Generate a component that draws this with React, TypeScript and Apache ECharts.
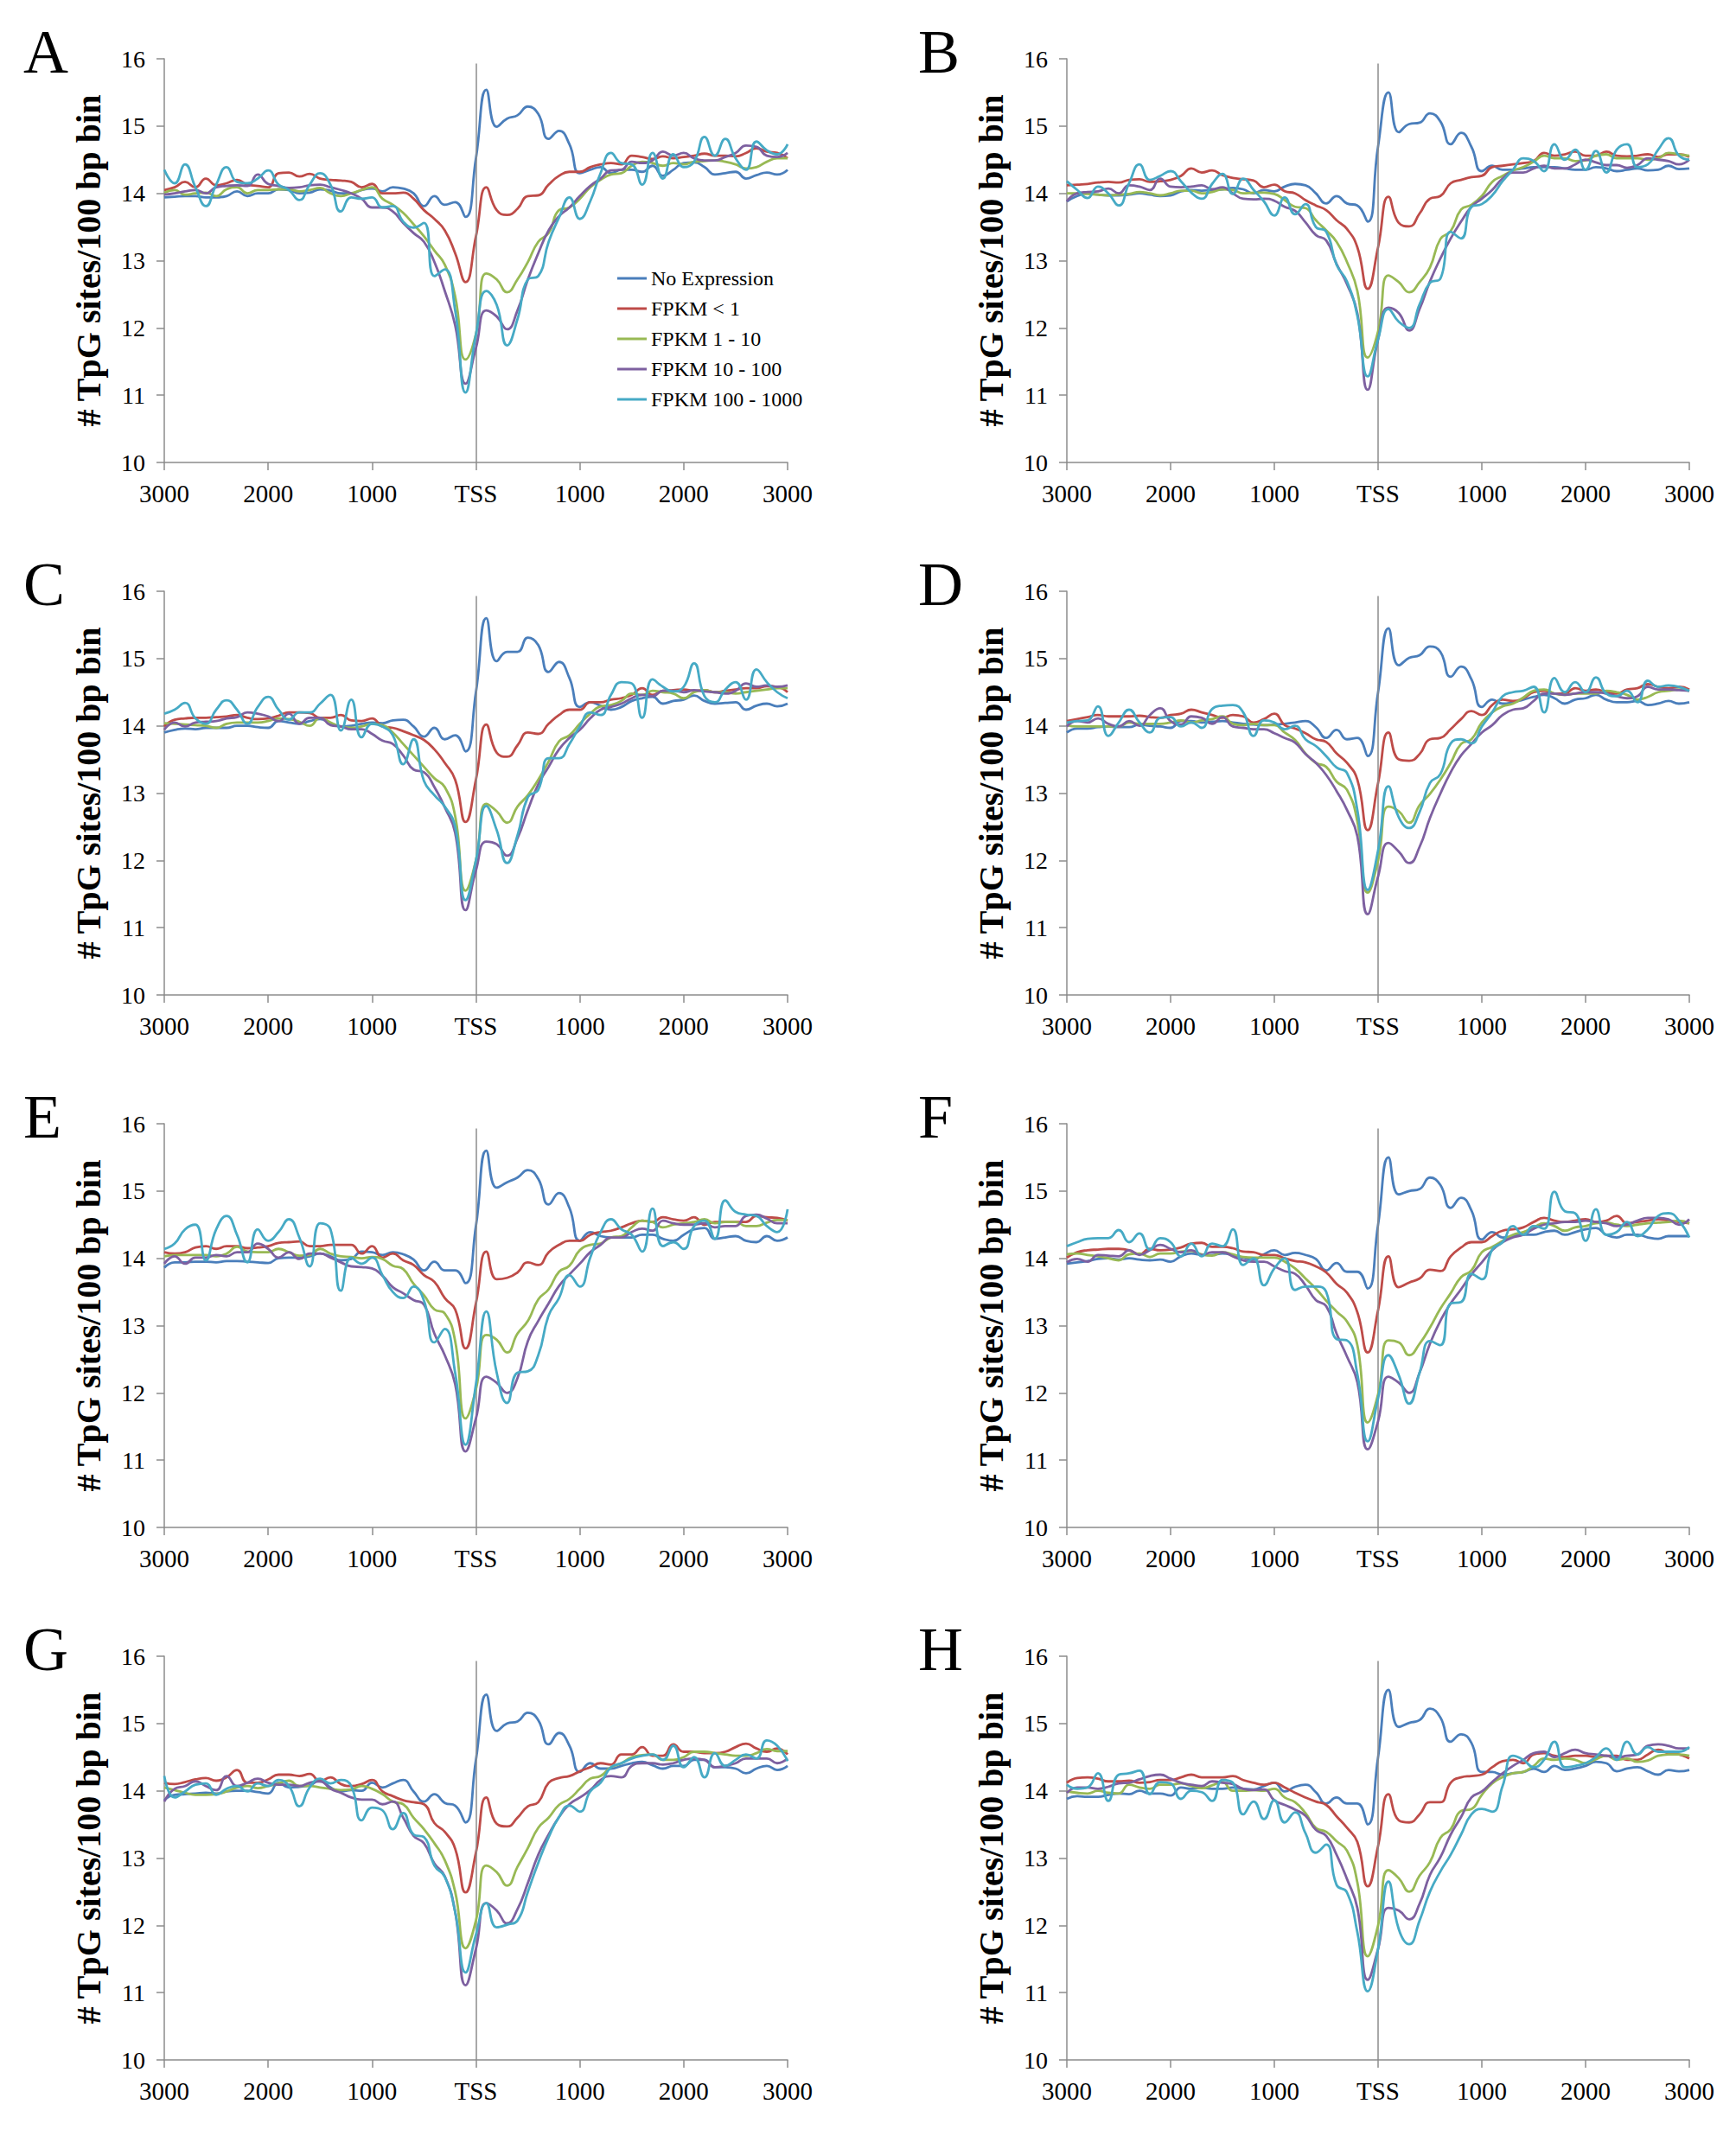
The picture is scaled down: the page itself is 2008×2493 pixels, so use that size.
import React, { useEffect, useRef } from "react";
import * as echarts from "echarts";

// x positions (bp relative to TSS), 100 bp bins
const positions = [
  -3000, -2900, -2800, -2700, -2600, -2500, -2400, -2300, -2200, -2100,
  -2000, -1900, -1800, -1700, -1600, -1500, -1400, -1300, -1200, -1100,
  -1000, -900, -800, -700, -600, -500, -400, -300, -200, -100,
  0, 100, 200, 300, 400, 500, 600, 700, 800, 900,
  1000, 1100, 1200, 1300, 1400, 1500, 1600, 1700, 1800, 1900,
  2000, 2100, 2200, 2300, 2400, 2500, 2600, 2700, 2800, 2900, 3000,
];

const seriesNames = ["No Expression", "FPKM < 1", "FPKM 1 - 10", "FPKM 10 - 100", "FPKM 100 - 1000"];
const seriesColors = ["#4A7EBB", "#BE4B48", "#98B954", "#7D60A0", "#46AAC5"];
const panelLetters = ["A", "B", "C", "D", "E", "F", "G", "H"];
const yAxisTitle = "# TpG sites/100 bp bin";
const yMin = 10;
const yMax = 16;
const yStep = 1;

// ---- Panel A ----
const A_noExpr = [13.94,13.95,13.96,13.96,13.94,13.94,13.96,14.03,13.96,14.0, 14.0,14.06,14.05,14.0,14.01,14.06,14.04,14.0,14.0,14.05, 14.07,14.03,14.09,14.07,14.0,13.81,13.96,13.83,13.87,13.65, 14.52,15.54,14.99,15.11,15.16,15.29,15.18,14.81,14.93,14.73, 14.30,14.35,14.39,14.30,14.35,14.35,14.32,14.41,14.26,14.35, 14.45,14.46,14.39,14.28,14.30,14.32,14.22,14.27,14.31,14.28,14.35];
const A_lt1 = [14.05,14.09,14.17,14.09,14.22,14.12,14.15,14.20,14.13,14.11, 14.09,14.30,14.31,14.25,14.29,14.22,14.20,14.19,14.17,14.09, 14.14,14.0,14.0,14.01,13.92,13.75,13.62,13.45,13.11,12.68, 13.36,14.09,13.75,13.68,13.77,13.96,13.97,14.13,14.26,14.32, 14.32,14.39,14.43,14.45,14.43,14.56,14.54,14.51,14.55,14.52, 14.54,14.56,14.59,14.56,14.56,14.55,14.60,14.67,14.62,14.60,14.52];
const A_1to10 = [14.01,14.05,13.98,14.0,14.01,13.96,14.06,14.09,14.0,14.05, 14.05,14.06,14.06,14.03,14.05,14.08,14.0,13.96,14.0,14.05, 14.09,13.92,13.83,13.71,13.54,13.36,13.15,12.94,12.47,11.53, 11.91,12.81,12.72,12.53,12.72,12.98,13.28,13.41,13.75,13.79, 13.92,14.09,14.20,14.28,14.30,14.41,14.47,14.45,14.41,14.45, 14.43,14.47,14.48,14.49,14.47,14.43,14.37,14.39,14.47,14.52,14.52];
const A_10to100 = [13.98,14.0,14.03,14.05,14.0,14.09,14.11,14.12,14.11,14.28, 14.14,14.11,14.08,14.09,14.12,14.13,14.09,14.05,14.0,13.92, 13.79,13.79,13.73,13.56,13.41,13.28,12.98,12.55,12.04,11.17, 11.70,12.26,12.17,11.98,12.26,12.72,13.11,13.45,13.66,13.79, 13.96,14.11,14.22,14.34,14.35,14.47,14.45,14.49,14.62,14.56, 14.60,14.52,14.49,14.49,14.54,14.60,14.71,14.69,14.56,14.54,14.60];
const A_100to1000 = [14.35,14.15,14.43,14.09,13.81,14.13,14.39,14.17,14.15,14.22, 14.34,14.13,14.05,13.90,14.13,14.30,14.13,13.73,13.94,13.92, 13.94,13.79,13.81,13.58,13.49,13.56,12.77,12.87,12.26,11.04, 11.9,12.55,12.34,11.74,12.13,12.72,12.77,13.28,13.64,13.94, 13.62,13.88,14.30,14.60,14.45,14.43,14.13,14.60,14.22,14.58, 14.39,14.47,14.84,14.56,14.81,14.52,14.35,14.77,14.64,14.58,14.73];

// ---- Panel B ----
const B_noExpr = [13.88,13.96,14.0,13.98,13.97,13.97,13.98,14.0,13.98,13.96, 13.97,14.03,14.05,14.04,14.05,14.06,14.08,14.06,14.0,14.05, 14.03,14.1,14.14,14.12,14.0,13.85,13.96,13.85,13.82,13.58, 14.7,15.5,14.91,15.03,15.05,15.19,15.07,14.73,14.9,14.69, 14.33,14.41,14.35,14.35,14.37,14.39,14.39,14.39,14.37,14.35, 14.35,14.39,14.37,14.33,14.35,14.37,14.34,14.35,14.41,14.36,14.37];
const B_lt1 = [14.12,14.13,14.14,14.16,14.17,14.16,14.2,14.21,14.17,14.18, 14.2,14.26,14.37,14.31,14.34,14.27,14.23,14.21,14.19,14.09, 14.13,14.03,14.0,13.9,13.82,13.75,13.6,13.47,13.2,12.58, 13.2,13.95,13.56,13.51,13.7,13.92,13.96,14.15,14.2,14.24, 14.26,14.39,14.41,14.43,14.45,14.48,14.6,14.56,14.58,14.62, 14.56,14.56,14.62,14.56,14.55,14.56,14.58,14.54,14.58,14.58,14.54];
const B_1to10 = [14.0,14.0,13.99,13.98,13.97,13.98,13.99,14.02,14.0,13.97, 14.0,14.04,14.04,14.0,14.02,14.06,14.05,14.0,14.01,14.01, 13.99,13.9,13.8,13.78,13.6,13.45,13.28,12.98,12.55,11.56, 11.95,12.78,12.68,12.53,12.68,12.9,13.32,13.44,13.76,13.83, 13.96,14.17,14.26,14.34,14.39,14.47,14.56,14.52,14.52,14.48, 14.49,14.56,14.58,14.52,14.52,14.52,14.5,14.52,14.6,14.58,14.56];
const B_10to100 = [13.88,14.0,14.02,14.03,14.07,14.0,14.12,14.1,14.05,14.22, 14.1,14.09,14.1,14.12,14.06,14.09,14.0,13.92,13.91,13.92, 13.89,13.8,13.74,13.57,13.38,13.3,12.95,12.65,12.22,11.08, 11.83,12.3,12.22,11.96,12.28,12.69,13.03,13.33,13.58,13.8, 13.92,14.05,14.22,14.31,14.31,14.37,14.41,14.37,14.37,14.43, 14.5,14.46,14.42,14.42,14.38,14.42,14.52,14.5,14.48,14.43,14.5];
const B_100to1000 = [14.18,14.05,13.93,14.1,14.0,13.82,14.15,14.43,14.2,14.26, 14.33,14.18,14.01,13.92,14.14,14.29,13.99,14.22,14.05,13.88, 13.67,13.94,13.69,13.84,13.5,13.43,12.94,12.69,12.18,11.28, 11.83,12.28,12.09,12.0,12.35,12.67,12.73,13.43,13.33,13.8, 13.84,13.97,14.18,14.35,14.52,14.48,14.33,14.73,14.5,14.65, 14.35,14.63,14.31,14.65,14.73,14.39,14.43,14.65,14.82,14.56,14.5];

// ---- Panel C ----
const C_noExpr = [13.9,13.94,13.96,13.95,13.97,13.97,13.97,14.0,14.0,13.98, 13.97,14.07,14.05,14.03,14.07,14.1,14.04,13.99,14.0,14.03, 14.05,14.04,14.08,14.09,13.99,13.84,13.97,13.8,13.86,13.62, 14.5,15.6,14.96,15.1,15.1,15.31,15.2,14.8,14.95,14.71, 14.28,14.35,14.3,14.24,14.28,14.37,14.41,14.43,14.33,14.37, 14.39,14.45,14.37,14.33,14.34,14.35,14.24,14.3,14.33,14.29,14.33];
const C_lt1 = [13.99,14.09,14.11,14.12,14.12,14.13,14.14,14.16,14.12,14.1, 14.11,14.15,14.2,14.2,14.19,14.12,14.12,14.16,14.08,14.07, 14.11,13.99,13.97,13.92,13.86,13.79,13.65,13.45,13.2,12.57, 13.2,14.02,13.6,13.54,13.71,13.9,13.88,14.03,14.16,14.24, 14.24,14.35,14.35,14.39,14.41,14.46,14.56,14.46,14.52,14.53, 14.54,14.52,14.53,14.5,14.52,14.54,14.56,14.56,14.59,14.58,14.5];
const C_1to10 = [14.04,14.03,14.02,14.01,14.0,13.97,14.03,14.05,14.05,14.05, 14.07,14.11,14.1,14.06,14.0,14.12,14.05,13.99,13.97,13.99, 14.03,14.01,13.9,13.73,13.56,13.39,13.22,13.09,12.66,11.55, 12.0,12.84,12.73,12.56,12.8,12.97,13.2,13.47,13.77,13.86, 14.03,14.18,14.29,14.31,14.37,14.48,14.46,14.52,14.5,14.48, 14.41,14.5,14.53,14.5,14.5,14.48,14.5,14.52,14.54,14.56,14.56];
const C_10to100 = [13.94,14.05,13.99,14.05,14.06,14.07,14.11,14.13,14.2,14.18, 14.14,14.07,14.18,14.03,14.12,14.12,14.01,13.99,13.95,13.95, 13.88,13.78,13.73,13.56,13.35,13.31,13.09,12.79,12.41,11.26, 11.85,12.28,12.24,12.07,12.33,12.75,13.13,13.39,13.65,13.82, 13.94,14.11,14.24,14.28,14.33,14.41,14.46,14.44,14.52,14.52, 14.5,14.53,14.51,14.5,14.48,14.52,14.63,14.58,14.6,14.58,14.6];
const C_100to1000 = [14.18,14.24,14.34,14.11,14.03,14.24,14.38,14.24,14.03,14.28, 14.43,14.24,14.09,14.2,14.2,14.33,14.46,13.93,14.39,13.83, 14.03,13.99,13.86,13.43,13.8,13.18,12.97,12.8,12.5,11.41, 12.0,12.81,12.45,11.96,12.37,12.94,13.05,13.52,13.52,13.73, 13.99,14.2,14.16,14.46,14.65,14.63,14.12,14.69,14.58,14.51, 14.58,14.93,14.44,14.35,14.54,14.65,14.39,14.84,14.65,14.5,14.41];

// ---- Panel D ----
const D_noExpr = [13.9,13.96,13.96,13.98,13.99,13.98,13.98,14.02,14.0,13.99, 13.97,14.07,14.07,14.05,14.06,14.07,14.05,14.03,14.02,14.01, 14.02,14.03,14.05,14.07,13.98,13.82,13.94,13.8,13.82,13.55, 14.5,15.45,14.9,15.01,15.05,15.18,15.1,14.73,14.88,14.69, 14.28,14.39,14.33,14.35,14.39,14.43,14.46,14.41,14.33,14.39, 14.41,14.46,14.39,14.35,14.35,14.37,14.31,14.33,14.37,14.33,14.35];
const D_lt1 = [14.07,14.1,14.13,14.16,14.14,14.14,14.14,14.15,14.13,14.12, 14.16,14.18,14.24,14.2,14.16,14.12,14.16,14.14,14.05,14.1, 14.18,14.01,13.96,13.89,13.8,13.76,13.59,13.45,13.2,12.45, 13.15,13.9,13.5,13.48,13.58,13.8,13.82,13.95,14.1,14.22, 14.16,14.31,14.39,14.37,14.41,14.5,14.52,14.48,14.48,14.56, 14.52,14.54,14.5,14.48,14.54,14.56,14.62,14.58,14.56,14.58,14.54];
const D_1to10 = [14.01,13.99,13.99,13.99,13.99,13.99,14.05,14.03,14.03,14.03, 14.05,14.08,14.05,14.08,14.1,14.14,14.03,14.01,14.03,14.01, 14.01,13.9,13.79,13.59,13.45,13.39,13.17,13.05,12.58,11.52, 12.0,12.8,12.73,12.56,12.82,12.99,13.2,13.45,13.73,13.8, 14.05,14.2,14.29,14.33,14.42,14.52,14.54,14.48,14.46,14.48, 14.48,14.48,14.52,14.5,14.46,14.39,14.43,14.5,14.52,14.54,14.52];
const D_10to100 = [13.99,14.07,14.05,14.11,14.03,13.99,14.07,14.0,14.16,14.26, 14.07,14.02,14.14,14.12,14.03,14.13,13.99,13.97,13.95,13.95, 13.89,13.82,13.75,13.58,13.45,13.27,13.03,12.75,12.36,11.2, 11.76,12.26,12.13,11.96,12.2,12.63,12.99,13.31,13.56,13.73, 13.9,14.01,14.16,14.24,14.26,14.37,14.48,14.48,14.46,14.48, 14.5,14.5,14.48,14.44,14.41,14.44,14.58,14.54,14.54,14.53,14.52];
const D_100to1000 = [14.05,14.07,14.08,14.29,13.85,14.05,14.24,14.05,13.9,14.12, 14.13,13.99,14.05,13.97,14.25,14.3,14.31,14.2,13.85,14.08, 14.05,13.95,14.0,13.8,13.7,13.55,13.38,13.3,12.75,11.56, 12.15,13.1,12.64,12.48,12.72,13.15,13.28,13.74,13.8,13.74, 13.99,14.2,14.44,14.5,14.52,14.58,14.2,14.71,14.5,14.65, 14.5,14.72,14.48,14.44,14.52,14.35,14.67,14.58,14.6,14.58,14.52];

// ---- Panel E ----
const E_noExpr = [13.86,13.94,13.94,13.95,13.95,13.94,13.96,13.96,13.95,13.94, 13.93,14.0,14.01,14.01,14.03,14.07,14.03,13.97,13.99,14.1, 14.09,14.05,14.09,14.06,13.98,13.82,13.95,13.82,13.82,13.63, 14.48,15.6,15.05,15.13,15.2,15.31,15.18,14.8,14.97,14.75, 14.26,14.39,14.33,14.31,14.31,14.31,14.35,14.35,14.29,14.26, 14.35,14.43,14.45,14.29,14.31,14.33,14.26,14.24,14.33,14.26,14.31];
const E_lt1 = [14.09,14.07,14.09,14.16,14.18,14.14,14.18,14.18,14.15,14.16, 14.18,14.23,14.24,14.25,14.18,14.18,14.2,14.2,14.2,14.07, 14.18,14.01,14.07,13.97,13.9,13.75,13.65,13.41,13.24,12.66, 13.33,14.1,13.69,13.71,13.79,13.94,13.9,14.09,14.2,14.26, 14.26,14.35,14.39,14.41,14.46,14.52,14.56,14.54,14.61,14.58, 14.56,14.61,14.5,14.54,14.54,14.54,14.54,14.63,14.61,14.6,14.56];
const E_1to10 = [14.03,14.05,14.05,14.05,14.05,14.03,14.07,14.17,14.1,14.09, 14.09,14.14,14.09,14.04,14.05,14.14,14.07,14.03,14.02,14.0, 14.02,13.99,13.89,13.84,13.62,13.45,13.24,13.18,12.77,11.62, 12.05,12.86,12.79,12.6,12.88,13.07,13.39,13.54,13.8,13.89, 14.12,14.2,14.22,14.31,14.33,14.46,14.56,14.54,14.46,14.5, 14.52,14.54,14.58,14.52,14.54,14.54,14.48,14.48,14.53,14.57,14.57];
const E_10to100 = [13.92,14.03,13.92,14.01,14.01,14.05,14.03,14.09,14.09,14.22, 14.14,14.01,14.09,13.99,14.07,14.07,14.01,13.94,13.88,13.87, 13.85,13.74,13.57,13.48,13.38,13.31,12.88,12.56,12.13,11.13, 11.62,12.24,12.15,12.0,12.22,12.77,13.07,13.33,13.59,13.76, 13.92,14.09,14.2,14.31,14.31,14.39,14.44,14.41,14.56,14.52, 14.5,14.5,14.52,14.46,14.48,14.48,14.63,14.65,14.59,14.52,14.52];
const E_100to1000 = [14.14,14.22,14.43,14.5,13.97,14.43,14.63,14.35,13.94,14.43, 14.26,14.39,14.58,14.31,13.88,14.52,14.43,13.52,14.01,13.92, 14.01,13.75,13.5,13.41,13.58,13.37,12.75,12.95,12.3,11.23, 12.13,13.21,12.3,11.85,12.3,12.32,12.56,13.15,13.41,13.75, 13.58,14.01,14.39,14.58,14.43,14.35,14.1,14.74,14.18,14.24, 14.14,14.48,14.56,14.29,14.86,14.69,14.65,14.63,14.48,14.39,14.73];

// ---- Panel F ----
const F_noExpr = [13.92,13.94,13.96,13.99,14.0,13.98,14.0,13.98,13.97,13.98, 13.95,14.03,14.07,14.05,14.05,14.07,14.05,14.01,13.98,14.06, 14.12,14.05,14.08,14.05,13.99,13.82,13.93,13.8,13.8,13.55, 14.5,15.5,14.95,15.0,15.03,15.2,15.09,14.75,14.9,14.71, 14.28,14.39,14.31,14.33,14.35,14.35,14.39,14.41,14.35,14.39, 14.43,14.45,14.35,14.31,14.35,14.35,14.31,14.29,14.33,14.33,14.33];
const F_lt1 = [14.01,14.09,14.12,14.13,14.14,14.14,14.12,14.06,14.14,14.12, 14.13,14.16,14.22,14.23,14.17,14.17,14.15,14.1,14.09,14.05, 14.05,14.0,13.96,13.94,13.88,13.79,13.62,13.49,13.2,12.6, 13.23,14.03,13.57,13.64,13.7,13.83,13.81,14.03,14.16,14.24, 14.24,14.33,14.41,14.43,14.46,14.54,14.6,14.56,14.54,14.56, 14.58,14.54,14.56,14.63,14.52,14.54,14.56,14.58,14.56,14.54,14.52];
const F_1to10 = [14.06,14.07,14.05,14.03,14.0,13.97,14.06,14.07,14.02,14.07, 14.07,14.1,14.11,14.06,14.04,14.09,14.06,14.02,14.01,14.01, 14.01,13.95,13.85,13.7,13.55,13.37,13.21,13.06,12.71,11.56, 11.98,12.78,12.75,12.56,12.73,12.97,13.25,13.48,13.72,13.82, 14.09,14.17,14.26,14.35,14.39,14.46,14.52,14.48,14.41,14.46, 14.48,14.52,14.53,14.5,14.48,14.5,14.52,14.53,14.54,14.56,14.52];
const F_10to100 = [13.94,13.99,13.95,14.05,14.04,14.03,14.12,14.05,14.12,14.2, 14.14,14.09,14.12,14.05,14.09,14.09,14.03,13.97,13.95,13.95, 13.88,13.81,13.77,13.6,13.38,13.29,12.88,12.54,12.16,11.16, 11.58,12.24,12.15,12.0,12.3,12.73,13.07,13.33,13.54,13.76, 13.94,14.12,14.24,14.31,14.35,14.44,14.5,14.52,14.54,14.54, 14.56,14.54,14.52,14.48,14.5,14.56,14.6,14.6,14.58,14.5,14.58];
const F_100to1000 = [14.18,14.24,14.29,14.3,14.3,14.42,14.24,14.37,14.13,14.3, 14.24,14.03,14.22,14.03,14.22,14.18,14.43,13.9,14.0,13.6, 13.85,14.0,13.53,13.58,13.58,13.5,12.8,12.78,12.28,11.28, 11.92,12.56,12.26,11.84,12.3,12.77,12.71,13.33,13.35,13.77, 13.69,14.13,14.24,14.48,14.35,14.48,14.44,14.99,14.7,14.67, 14.26,14.73,14.35,14.39,14.54,14.33,14.43,14.63,14.67,14.56,14.31];

// ---- Panel G ----
const G_noExpr = [13.86,13.94,13.95,13.96,13.97,13.96,13.99,14.0,14.0,13.98, 13.96,14.12,14.05,14.06,14.08,14.16,14.05,13.99,14.01,14.0, 14.12,14.05,14.11,14.16,13.99,13.84,13.95,13.82,13.78,13.53, 14.46,15.43,14.89,15.0,15.03,15.16,15.05,14.69,14.86,14.67, 14.28,14.41,14.33,14.33,14.37,14.41,14.43,14.38,14.33,14.37, 14.37,14.46,14.46,14.35,14.35,14.33,14.26,14.33,14.37,14.31,14.37];
const G_lt1 = [14.12,14.1,14.13,14.17,14.19,14.15,14.2,14.31,14.12,14.12, 14.17,14.24,14.24,14.22,14.25,14.14,14.2,14.1,14.07,14.1, 14.16,13.99,13.92,13.86,13.83,13.8,13.52,13.39,13.14,12.49, 13.08,13.9,13.51,13.47,13.6,13.77,13.83,14.12,14.19,14.22, 14.29,14.35,14.41,14.39,14.54,14.54,14.65,14.52,14.52,14.69, 14.58,14.58,14.56,14.56,14.58,14.65,14.7,14.63,14.58,14.63,14.54];
const G_1to10 = [14.05,14.01,13.97,13.94,13.94,13.95,13.99,14.05,14.07,14.04, 14.07,14.11,14.15,14.07,14.07,14.05,14.03,14.01,14.02,14.07, 14.03,13.95,13.84,13.8,13.6,13.43,13.22,12.97,12.5,11.66, 12.07,12.89,12.79,12.59,12.87,13.15,13.45,13.6,13.79,13.88, 14.03,14.18,14.22,14.35,14.41,14.5,14.53,14.54,14.46,14.46, 14.5,14.58,14.58,14.56,14.54,14.52,14.52,14.56,14.62,14.59,14.59];
const G_10to100 = [13.84,14.03,14.07,14.14,14.07,14.01,14.22,14.07,14.12,14.18, 14.12,14.09,14.09,14.07,14.12,14.14,14.03,13.97,13.9,13.87, 13.87,13.8,13.84,13.6,13.33,13.22,12.92,12.73,12.2,11.11, 11.65,12.33,12.22,12.03,12.24,12.63,13.05,13.35,13.61,13.8, 13.9,14.01,14.16,14.22,14.2,14.37,14.41,14.41,14.39,14.41, 14.46,14.48,14.46,14.35,14.37,14.41,14.48,14.48,14.48,14.41,14.48];
const G_100to1000 = [14.22,13.9,13.99,14.09,14.11,13.94,14.03,14.07,13.99,14.11, 14.07,14.16,14.07,13.77,14.05,14.18,14.11,14.16,14.07,13.56, 13.75,13.71,13.43,13.67,13.35,13.31,12.89,12.72,12.2,11.3, 11.86,12.33,11.97,12.01,12.07,12.5,12.93,13.31,13.61,13.78, 13.69,13.99,14.12,14.35,14.41,14.48,14.52,14.54,14.46,14.67, 14.35,14.5,14.2,14.56,14.37,14.46,14.54,14.48,14.75,14.67,14.44];

// ---- Panel H ----
const H_noExpr = [13.88,13.92,13.91,13.91,13.94,13.96,13.95,14.0,13.96,13.96, 13.93,14.05,14.03,14.05,14.03,14.03,14.05,14.03,14.02,14.07, 14.12,13.99,14.06,14.09,13.98,13.81,13.9,13.81,13.81,13.5, 14.5,15.5,14.95,15.01,15.05,15.22,15.09,14.73,14.84,14.71, 14.28,14.28,14.24,14.26,14.28,14.33,14.28,14.37,14.31,14.33, 14.37,14.43,14.41,14.29,14.33,14.35,14.29,14.24,14.31,14.29,14.31];
const H_lt1 = [14.12,14.19,14.2,14.18,14.14,14.14,14.15,14.12,14.13,14.16, 14.16,14.2,14.24,14.2,14.2,14.2,14.22,14.16,14.12,14.09, 14.12,14.05,13.97,13.9,13.84,13.79,13.62,13.45,13.24,12.58, 13.18,13.95,13.56,13.53,13.65,13.83,13.83,14.12,14.2,14.22, 14.24,14.35,14.44,14.46,14.41,14.54,14.56,14.52,14.5,14.52, 14.52,14.5,14.52,14.52,14.46,14.46,14.54,14.61,14.56,14.54,14.48];
const H_1to10 = [13.99,13.97,13.96,14.0,13.97,13.96,14.09,14.05,14.03,14.09, 14.09,14.11,14.07,14.04,14.08,14.13,14.0,14.0,14.01,14.0, 14.03,13.9,13.83,13.67,13.45,13.39,13.25,13.11,12.64,11.54, 12.0,12.82,12.7,12.5,12.74,12.94,13.3,13.43,13.7,13.73, 13.94,14.11,14.2,14.26,14.28,14.37,14.48,14.46,14.48,14.46, 14.41,14.47,14.52,14.46,14.48,14.43,14.45,14.52,14.54,14.54,14.52];
const H_10to100 = [13.97,14.05,14.05,14.03,14.06,14.11,14.12,14.17,14.22,14.24, 14.18,14.12,14.09,14.07,14.14,14.12,14.1,14.03,14.01,14.02, 13.86,13.79,13.72,13.63,13.42,13.33,13.05,12.69,12.26,11.19, 11.65,12.26,12.22,12.09,12.32,12.75,13.01,13.35,13.61,13.9, 13.99,14.13,14.26,14.37,14.46,14.56,14.58,14.5,14.56,14.61, 14.56,14.54,14.52,14.5,14.52,14.54,14.67,14.69,14.67,14.63,14.63];
const H_100to1000 = [14.09,14.03,14.05,14.26,13.85,14.24,14.26,14.3,13.95,14.13, 14.11,13.88,14.0,13.98,13.85,14.16,14.12,13.65,13.84,13.58, 13.86,13.53,13.68,13.37,13.08,13.2,12.6,12.49,11.9,11.02, 11.65,12.65,11.94,11.72,12.07,12.5,12.8,13.05,13.35,13.65, 13.73,13.69,14.07,14.52,14.46,14.35,14.46,14.73,14.35,14.37, 14.41,14.5,14.63,14.46,14.73,14.54,14.65,14.58,14.58,14.58,14.65];

const panelSeries = [
  [A_noExpr, A_lt1, A_1to10, A_10to100, A_100to1000],
  [B_noExpr, B_lt1, B_1to10, B_10to100, B_100to1000],
  [C_noExpr, C_lt1, C_1to10, C_10to100, C_100to1000],
  [D_noExpr, D_lt1, D_1to10, D_10to100, D_100to1000],
  [E_noExpr, E_lt1, E_1to10, E_10to100, E_100to1000],
  [F_noExpr, F_lt1, F_1to10, F_10to100, F_100to1000],
  [G_noExpr, G_lt1, G_1to10, G_10to100, G_100to1000],
  [H_noExpr, H_lt1, H_1to10, H_10to100, H_100to1000],
];

// ---- layout (pixels) ----
const COL_LEFT = [190, 1234];
const COL_WIDTH = [721, 720];
const ROW_TOP = [68, 684, 1300, 1916];
const PLOT_H = 467;
const LETTER_X = [27, 1062];
const FONT = "Liberation Serif";
const AXIS_COLOR = "#8c8c8c";

function buildOption() {
  const cats = positions.map((p) => String(p));
  const grid: any[] = [];
  const xAxis: any[] = [];
  const yAxis: any[] = [];
  const series: any[] = [];
  const graphic: any[] = [];

  panelSeries.forEach((sets, i) => {
    const col = i % 2;
    const row = Math.floor(i / 2);
    grid.push({
      left: COL_LEFT[col],
      top: ROW_TOP[row],
      width: COL_WIDTH[col],
      height: PLOT_H,
      containLabel: false,
    });
    xAxis.push({
      type: "category",
      gridIndex: i,
      data: cats,
      boundaryGap: false,
      axisLine: { show: true, onZero: false, lineStyle: { color: AXIS_COLOR, width: 1.5 } },
      axisTick: { show: true, interval: 9, length: 9, lineStyle: { color: AXIS_COLOR, width: 1.5 } },
      axisLabel: {
        interval: 9,
        margin: 21,
        color: "#000",
        fontFamily: FONT,
        fontSize: 29,
        formatter: (v: string) => (Number(v) === 0 ? "TSS" : String(Math.abs(Number(v)))),
      },
      splitLine: { show: false },
    });
    yAxis.push({
      type: "value",
      gridIndex: i,
      min: yMin,
      max: yMax,
      interval: yStep,
      axisLine: { show: true, lineStyle: { color: AXIS_COLOR, width: 1.5 } },
      axisTick: { show: true, length: 9, lineStyle: { color: AXIS_COLOR, width: 1.5 } },
      axisLabel: { margin: 22, color: "#000", fontFamily: FONT, fontSize: 28 },
      splitLine: { show: false },
      name: yAxisTitle,
      nameLocation: "middle",
      nameGap: 68,
      nameTextStyle: { color: "#000", fontFamily: FONT, fontSize: 40, fontWeight: "bold" },
    });
    sets.forEach((vals, s) => {
      const ser: any = {
        type: "line",
        name: seriesNames[s],
        xAxisIndex: i,
        yAxisIndex: i,
        data: vals,
        smooth: 0.5,
        symbol: "none",
        showSymbol: false,
        lineStyle: { color: seriesColors[s], width: 2.8 },
        itemStyle: { color: seriesColors[s] },
        z: 3 + s,
      };
      if (s === 0) {
        ser.markLine = {
          silent: true,
          symbol: "none",
          label: { show: false },
          lineStyle: { color: AXIS_COLOR, width: 1.5, type: "solid" },
          data: [[{ coord: ["0", 15.93] }, { coord: ["0", yMin] }]],
        };
      }
      series.push(ser);
    });
    graphic.push({
      type: "text",
      left: LETTER_X[col],
      top: ROW_TOP[row] - 44,
      style: { text: panelLetters[i], fontFamily: FONT, fontSize: 72, fill: "#000" },
    });
  });

  return {
    animation: false,
    backgroundColor: "#ffffff",
    textStyle: { fontFamily: FONT },
    grid,
    xAxis,
    yAxis,
    series,
    graphic,
    legend: {
      show: true,
      data: seriesNames,
      orient: "vertical",
      left: 709,
      top: 305,
      icon: "rect",
      itemWidth: 34,
      itemHeight: 3,
      itemGap: 11,
      selectedMode: false,
      textStyle: { color: "#000", fontFamily: FONT, fontSize: 24, lineHeight: 24 },
    },
  };
}

export default function App() {
  const ref = useRef<HTMLDivElement>(null);
  useEffect(() => {
    if (!ref.current) return;
    const chart = echarts.init(ref.current, undefined, { renderer: "svg" });
    chart.setOption(buildOption() as any);
    return () => chart.dispose();
  }, []);
  return (
    <div
      ref={ref}
      style={{ position: "absolute", left: 0, top: 0, width: 2008, height: 2493, background: "#fff" }}
    />
  );
}
